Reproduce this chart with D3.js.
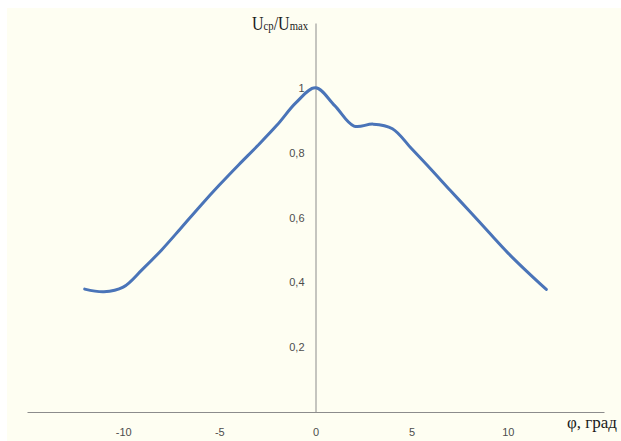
<!DOCTYPE html>
<html><head><meta charset="utf-8">
<script src="https://cdn.jsdelivr.net/npm/d3@7"></script>
<style>html,body{margin:0;padding:0;background:#fff;}svg{display:block;}</style>
</head><body>
<svg id="chart" width="621" height="441"></svg>
<script>
const angles = [-12,-11,-10,-9,-8,-7,-6,-5,-4,-3,-2,-1,0,1,2,3,4,5,6,7,8,9,10,11,12];
const ratios = [0.379,0.371,0.385,0.44,0.50,0.567,0.635,0.70,0.762,0.822,0.885,0.955,1.0,0.945,0.882,0.888,0.874,0.812,0.749,0.684,0.62,0.555,0.491,0.433,0.378];
const xTicks = [-10,-5,0,5,10];
const yTicks = [0.2,0.4,0.6,0.8,1];
const yTickLabels = ["0,2","0,4","0,6","0,8","1"];

const svg = d3.select("#chart");
svg.append("rect").attr("x",7).attr("y",8).attr("width",614).attr("height",433).attr("fill","#fefef2");

const x = d3.scaleLinear().domain([-15,15]).range([27,604]);
const y = d3.scaleLinear().domain([0,1.2]).range([412,23]);

const axisColor = "#8c8c8c";
const xAxis = d3.axisBottom(x).tickValues(xTicks).tickSize(0).tickPadding(16).tickFormat(d=>d);
const gx = svg.append("g").attr("transform",`translate(0,${y(0)})`).call(xAxis);
gx.select(".domain").attr("stroke",axisColor).attr("stroke-width",1);
gx.selectAll("text").attr("fill","#4d4d4d").style("font-family","Liberation Sans, Arial, sans-serif").style("font-size","11px");

const yAxis = d3.axisLeft(y).tickValues(yTicks).tickSize(0).tickPadding(11).tickFormat((d,i)=>yTickLabels[i]);
const gy = svg.append("g").attr("transform",`translate(${x(0)},0)`).call(yAxis);
gy.select(".domain").attr("stroke",axisColor).attr("stroke-width",1);
gy.selectAll("text").attr("fill","#4d4d4d").style("font-family","Liberation Sans, Arial, sans-serif").style("font-size","11px");

const line = d3.line().x((d,i)=>x(angles[i])).y(d=>y(d)).curve(d3.curveCatmullRom.alpha(0.5));
svg.append("path").attr("d",line(ratios)).attr("fill","none").attr("stroke","#4a74b8").attr("stroke-width",3).attr("stroke-linecap","round");

const yt = svg.append("text").attr("x",252).attr("y",30).attr("fill","#1a1a1a")
  .style("font-family","Liberation Serif, Times New Roman, serif").style("font-size","18px")
  .attr("textLength",56).attr("lengthAdjust","spacingAndGlyphs");
yt.append("tspan").text("U");
yt.append("tspan").style("font-size","12px").text("ср");
yt.append("tspan").text("/U");
yt.append("tspan").style("font-size","12px").text("max");

svg.append("text").attr("x",567).attr("y",428).attr("fill","#1a1a1a")
  .style("font-family","Liberation Serif, Times New Roman, serif").style("font-size","17px")
  .text("φ, град");
</script>
</body></html>
